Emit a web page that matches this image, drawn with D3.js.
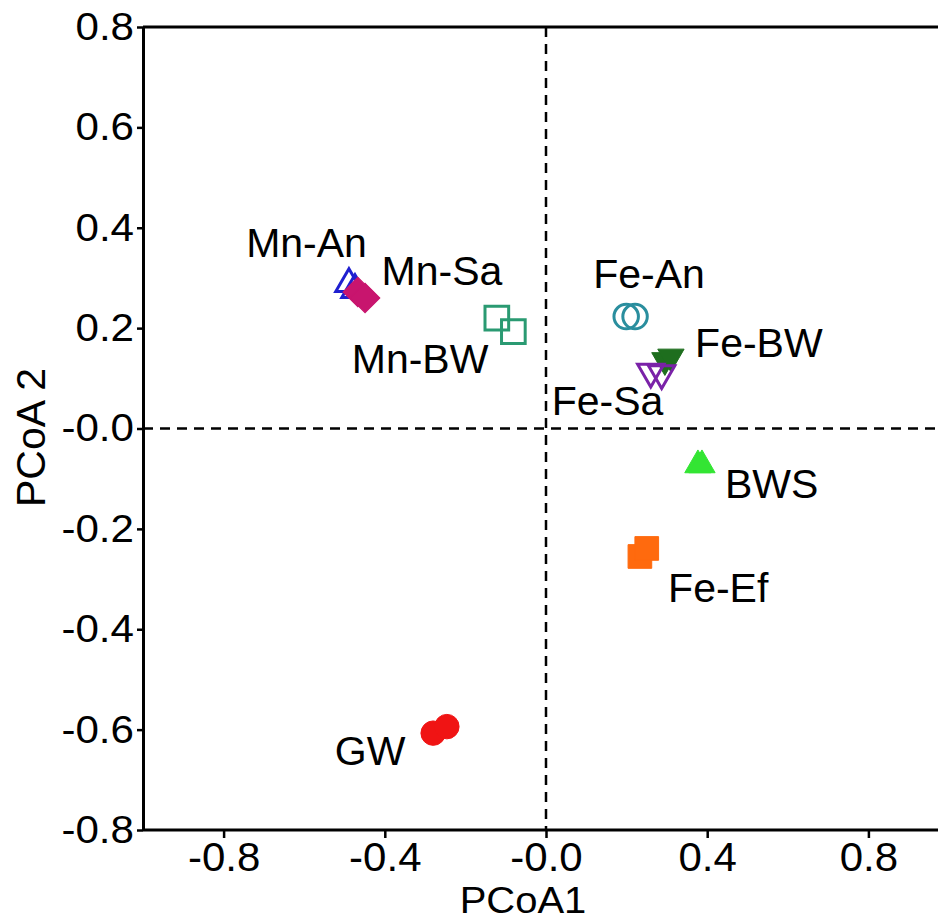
<!DOCTYPE html>
<html>
<head>
<meta charset="utf-8">
<script src="https://cdn.jsdelivr.net/npm/d3@7"></script>
<style>
  body { margin: 0; background: #fff; }
  svg { display: block; font-family: "Liberation Sans", Arial, sans-serif; }
</style>
</head>
<body>
<div id="chart"></div>
<script>
// groups, two replicate samples each
const groups = ["Mn-An", "Mn-Sa", "Mn-BW", "Fe-An", "Fe-BW", "Fe-Sa", "BWS", "Fe-Ef", "GW"];
const pcoa1 = [[-0.489, -0.474], [-0.467, -0.449], [-0.122, -0.081], [0.199, 0.221], [0.295, 0.310],
               [0.260, 0.287], [0.377, 0.387], [0.233, 0.250], [-0.280, -0.246]];
const pcoa2 = [[0.288, 0.276], [0.272, 0.260], [0.220, 0.193], [0.223, 0.223], [0.136, 0.143],
               [0.113, 0.110], [-0.073, -0.073], [-0.255, -0.239], [-0.607, -0.594]];
// label anchors (data units)
const labelX = [-0.744, -0.408, -0.482, 0.117, 0.370, 0.014, 0.444, 0.303, -0.524];
const labelY = [0.342, 0.286, 0.110, 0.279, 0.143, 0.027, -0.139, -0.345, -0.670];

const xTicks = [-0.8, -0.4, 0, 0.4, 0.8];
const yTicks = [-0.8, -0.6, -0.4, -0.2, 0, 0.2, 0.4, 0.6, 0.8];

// marker look per group
const markers = {
    "Mn-An": { shape: "up", color: "#1f1fd0", open: true },
    "Mn-Sa": { shape: "diamond", color: "#c8156e", open: false },
    "Mn-BW": { shape: "square", color: "#2a9a72", open: true },
    "Fe-An": { shape: "circle", color: "#2a8e9e", open: true },
    "Fe-BW": { shape: "down", color: "#1e6e1e", open: false },
    "Fe-Sa": { shape: "down", color: "#7a22a8", open: true },
    "BWS": { shape: "up", color: "#33e533", open: false },
    "Fe-Ef": { shape: "square", color: "#ff6a0e", open: false },
    "GW": { shape: "circle", color: "#f01414", open: false }
};

const W = 938, H = 922;
const svg = d3.select("#chart").append("svg")
    .attr("width", W)
    .attr("height", H);

const x = d3.scaleLinear().domain([-1, 1]).range([143, 949]);
const y = d3.scaleLinear().domain([-0.8, 0.8]).range([830, 27]);

const fmt = d => (d <= 0 ? "-" : "") + Math.abs(d).toFixed(1);

// stretch a text horizontally by a factor
function widen(sel, k) {
    sel.each(function () {
        const w = this.getComputedTextLength();
        d3.select(this).attr("textLength", w * k).attr("lengthAdjust", "spacingAndGlyphs");
    });
}

// zero lines
svg.append("line")
    .attr("x1", x(0)).attr("x2", x(0))
    .attr("y1", y(0.8)).attr("y2", y(-0.8))
    .attr("stroke", "#000").attr("stroke-width", 2.5)
    .attr("stroke-dasharray", "10,7");
svg.append("line")
    .attr("x1", x(-1)).attr("x2", x(1))
    .attr("y1", y(0)).attr("y2", y(0))
    .attr("stroke", "#000").attr("stroke-width", 2.5)
    .attr("stroke-dasharray", "10,7");

// top border
svg.append("line")
    .attr("x1", x(-1)).attr("x2", x(1))
    .attr("y1", y(0.8)).attr("y2", y(0.8))
    .attr("stroke", "#000").attr("stroke-width", 3);

// axes
const xAxis = svg.append("g")
    .attr("transform", `translate(0,${y(-0.8)})`)
    .call(d3.axisBottom(x).tickValues(xTicks).tickFormat(fmt).tickSize(8).tickPadding(5).tickSizeOuter(0));
const yAxis = svg.append("g")
    .attr("transform", `translate(${x(-1)},0)`)
    .call(d3.axisLeft(y).tickValues(yTicks).tickFormat(fmt).tickSize(6).tickPadding(3).tickSizeOuter(0));

[xAxis, yAxis].forEach(a => {
    a.select(".domain").attr("stroke", "#000").attr("stroke-width", 3);
    a.selectAll(".tick line").attr("stroke", "#000").attr("stroke-width", 2.5);
    a.selectAll(".tick text")
        .attr("fill", "#000")
        .style("font-family", "'Liberation Sans', Arial, sans-serif");
});
xAxis.select(".domain").attr("d", `M${x(-1)},0H${x(1)}`);
xAxis.selectAll(".tick text").style("font-size", "40px").call(widen, 1.05);
yAxis.selectAll(".tick text").style("font-size", "39px").call(widen, 1.08);

// axis titles
svg.append("text")
    .attr("x", 523).attr("y", 913)
    .attr("text-anchor", "middle")
    .style("font-size", "37px")
    .text("PCoA1")
    .call(widen, 1.08);
svg.append("text")
    .attr("transform", `translate(45,${y(0) + 9}) rotate(-90)`)
    .attr("text-anchor", "middle")
    .style("font-size", "41px")
    .text("PCoA 2");

// markers
const symbolFor = {
    up: d3.symbol().type(d3.symbolTriangle).size(300),
    down: d3.symbol().type(d3.symbolTriangle).size(300),
    circle: d3.symbol().type(d3.symbolCircle).size(470),
    square: d3.symbol().type(d3.symbolSquare).size(560),
    diamond: d3.symbol().type(d3.symbolSquare).size(440)
};
const rotFor = { up: 0, down: 180, circle: 0, square: 0, diamond: 45 };

const points = [];
groups.forEach((g, i) => {
    pcoa1[i].forEach((v, j) => points.push({ group: g, pc1: v, pc2: pcoa2[i][j] }));
});

svg.append("g")
    .selectAll("path")
    .data(points)
    .enter().append("path")
    .attr("d", d => symbolFor[markers[d.group].shape]())
    .attr("transform", d => `translate(${x(d.pc1)},${y(d.pc2)}) rotate(${rotFor[markers[d.group].shape]})`)
    .attr("fill", d => markers[d.group].open ? "none" : markers[d.group].color)
    .attr("stroke", d => markers[d.group].color)
    .attr("stroke-width", d => markers[d.group].open ? 3 : 1);

// point labels
svg.append("g")
    .selectAll("text")
    .data(groups)
    .enter().append("text")
    .attr("x", (d, i) => x(labelX[i]))
    .attr("y", (d, i) => y(labelY[i]))
    .style("font-size", "41px")
    .attr("fill", "#000")
    .text(d => d);
</script>
</body>
</html>
